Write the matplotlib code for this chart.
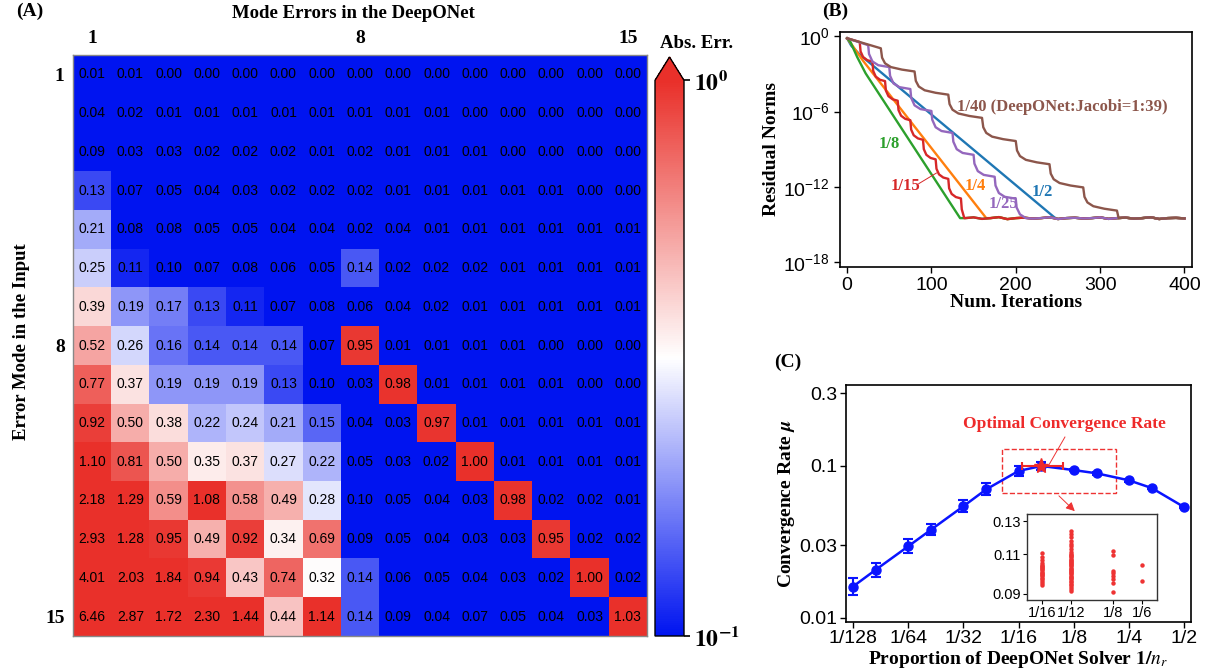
import numpy as np
import matplotlib
matplotlib.use("Agg")
import matplotlib.pyplot as plt
from matplotlib.colors import LinearSegmentedColormap, LogNorm
from matplotlib.patches import Rectangle

plt.rcParams['font.family'] = ['Liberation Sans', 'DejaVu Sans']
plt.rcParams['mathtext.fontset'] = 'stix'
SERIF = 'Liberation Serif'

# ---------------- (A) heatmap data ----------------
mode_err = [
    [0.01, 0.01, 0.00, 0.00, 0.00, 0.00, 0.00, 0.00, 0.00, 0.00, 0.00, 0.00, 0.00, 0.00, 0.00],
    [0.04, 0.02, 0.01, 0.01, 0.01, 0.01, 0.01, 0.01, 0.01, 0.01, 0.00, 0.00, 0.00, 0.00, 0.00],
    [0.09, 0.03, 0.03, 0.02, 0.02, 0.02, 0.01, 0.02, 0.01, 0.01, 0.01, 0.00, 0.00, 0.00, 0.00],
    [0.13, 0.07, 0.05, 0.04, 0.03, 0.02, 0.02, 0.02, 0.01, 0.01, 0.01, 0.01, 0.01, 0.00, 0.00],
    [0.21, 0.08, 0.08, 0.05, 0.05, 0.04, 0.04, 0.02, 0.04, 0.01, 0.01, 0.01, 0.01, 0.01, 0.01],
    [0.25, 0.11, 0.10, 0.07, 0.08, 0.06, 0.05, 0.14, 0.02, 0.02, 0.02, 0.01, 0.01, 0.01, 0.01],
    [0.39, 0.19, 0.17, 0.13, 0.11, 0.07, 0.08, 0.06, 0.04, 0.02, 0.01, 0.01, 0.01, 0.01, 0.01],
    [0.52, 0.26, 0.16, 0.14, 0.14, 0.14, 0.07, 0.95, 0.01, 0.01, 0.01, 0.01, 0.00, 0.00, 0.00],
    [0.77, 0.37, 0.19, 0.19, 0.19, 0.13, 0.10, 0.03, 0.98, 0.01, 0.01, 0.01, 0.01, 0.00, 0.00],
    [0.92, 0.50, 0.38, 0.22, 0.24, 0.21, 0.15, 0.04, 0.03, 0.97, 0.01, 0.01, 0.01, 0.01, 0.01],
    [1.10, 0.81, 0.50, 0.35, 0.37, 0.27, 0.22, 0.05, 0.03, 0.02, 1.00, 0.01, 0.01, 0.01, 0.01],
    [2.18, 1.29, 0.59, 1.08, 0.58, 0.49, 0.28, 0.10, 0.05, 0.04, 0.03, 0.98, 0.02, 0.02, 0.01],
    [2.93, 1.28, 0.95, 0.49, 0.92, 0.34, 0.69, 0.09, 0.05, 0.04, 0.03, 0.03, 0.95, 0.02, 0.02],
    [4.01, 2.03, 1.84, 0.94, 0.43, 0.74, 0.32, 0.14, 0.06, 0.05, 0.04, 0.03, 0.02, 1.00, 0.02],
    [6.46, 2.87, 1.72, 2.30, 1.44, 0.44, 1.14, 0.14, 0.09, 0.04, 0.07, 0.05, 0.04, 0.03, 1.03],
]
mode_ticks = ['1', '8', '15']

# ---------------- (B) residual norms (log10) ----------------
floor_it = [140, 150, 160, 170, 180, 190, 200, 210, 220, 230, 240, 250, 260, 270,
            280, 290, 300, 310, 320, 330, 340, 350, 360, 370, 380, 390, 400]
floor_log = [-14.5, -14.44, -14.56, -14.5, -14.42, -14.58, -14.5, -14.46, -14.54,
             -14.5, -14.43, -14.57, -14.5, -14.47, -14.53, -14.5, -14.44, -14.56,
             -14.5, -14.46, -14.54, -14.5, -14.43, -14.57, -14.5, -14.48, -14.52]

it_half = [0, 5, 15, 246]
log_half = [-0.15, -0.75, -1.45, -14.45]
it_quarter = [0, 6, 19, 165]
log_quarter = [-0.15, -0.7, -1.95, -14.5]
it_eighth = [0, 4, 12, 22, 134]
log_eighth = [-0.15, -0.45, -1.65, -2.95, -14.5]
it_15 = [0, 15, 16, 19, 24, 30, 31, 34, 39, 45, 46, 49, 54, 60, 61, 64, 69, 75, 76, 79,
         84, 90, 91, 94, 99, 105, 106, 109, 114, 120, 121, 124, 129, 135, 136, 139]
log_15 = [-0.15, -0.45, -1.2, -1.65, -1.9, -2.01, -2.76, -3.21, -3.46, -3.57, -4.32,
          -4.77, -5.02, -5.13, -5.88, -6.33, -6.58, -6.69, -7.44, -7.89, -8.14, -8.25,
          -9.0, -9.45, -9.7, -9.81, -10.56, -11.01, -11.26, -11.37, -12.12, -12.57,
          -12.82, -12.93, -13.8, -14.5]
it_25 = [0, 25, 26, 30, 37, 50, 51, 55, 62, 75, 76, 80, 87, 100, 101, 105, 112, 125,
         126, 130, 137, 150, 151, 155, 162, 175, 176, 180, 187, 200, 201, 205, 212]
log_25 = [-0.15, -0.7, -1.4, -2.0, -2.3, -2.45, -3.15, -3.75, -4.05, -4.2, -4.9, -5.5,
          -5.8, -5.95, -6.65, -7.25, -7.55, -7.7, -8.4, -9.0, -9.3, -9.45, -10.15,
          -10.75, -11.05, -11.2, -11.9, -12.5, -12.8, -12.95, -13.65, -14.2, -14.5]
it_40 = [0, 20, 40, 41.5, 45, 52, 65, 80, 81.5, 85, 92, 105, 120, 121.5, 125, 132, 145,
         160, 161.5, 165, 172, 185, 200, 201.5, 205, 212, 225, 240, 241.5, 245, 252, 265,
         280, 281.5, 285, 292, 305, 320, 322]
log_40 = [-0.15, -0.55, -0.95, -1.7, -2.15, -2.45, -2.65, -2.8, -3.55, -4.0, -4.3, -4.5,
          -4.65, -5.4, -5.85, -6.15, -6.35, -6.5, -7.25, -7.7, -8.0, -8.2, -8.35, -9.1,
          -9.55, -9.85, -10.05, -10.2, -10.95, -11.4, -11.7, -11.9, -12.05, -12.8,
          -13.25, -13.55, -13.75, -13.9, -14.5]

# ---------------- (C) convergence rate ----------------
prop = [1/128, 1/96, 1/64, 1/48, 1/32, 1/24, 1/16, 1/12, 1/8, 1/6, 1/4, 1/3, 1/2]
mu = [0.0161, 0.0208, 0.0296, 0.0381, 0.0543, 0.0702, 0.0927, 0.100, 0.094, 0.0895,
      0.0805, 0.0716, 0.0537]
mu_lo = [0.0141, 0.0187, 0.0266, 0.0350, 0.0496, 0.0642, 0.0859, 0.0935, 0.092, 0.0877,
         0.079, 0.0703, 0.0527]
mu_hi = [0.0184, 0.0231, 0.0329, 0.0415, 0.0594, 0.0768, 0.1000, 0.107, 0.096, 0.0913,
         0.082, 0.073, 0.0547]
prop_ticks = [1/128, 1/64, 1/32, 1/16, 1/8, 1/4, 1/2]
prop_labels = ['1/128', '1/64', '1/32', '1/16', '1/8', '1/4', '1/2']
opt_x, opt_mu = 1/12, 0.100
opt_range = [0.0653, 0.110]

ins_x = [1/16, 1/12, 1/8, 1/6]
ins_labels = ['1/16', '1/12', '1/8', '1/6']
ins_16 = [0.1107, 0.1085, 0.1068, 0.1052, 0.1045, 0.1038, 0.1032, 0.1026, 0.1020, 0.1014,
          0.1008, 0.1002, 0.0996, 0.0990, 0.0984, 0.0978, 0.0970, 0.0961, 0.0950, 0.0940]
ins_12 = [0.1240, 0.1220, 0.1200, 0.1175, 0.1160, 0.1145, 0.1130, 0.1115, 0.1105, 0.1098,
          0.1090, 0.1083, 0.1076, 0.1070, 0.1064, 0.1058, 0.1052, 0.1046, 0.1040, 0.1035,
          0.1029, 0.1023, 0.1017, 0.1011, 0.1005, 0.1000, 0.0994, 0.0988, 0.0982, 0.0976,
          0.0970, 0.0963, 0.0956, 0.0948, 0.0940, 0.0932, 0.0924, 0.0915]
ins_8 = [0.1120, 0.1094, 0.1013, 0.1000, 0.0987, 0.0972, 0.0952, 0.0911]
ins_6 = [0.1041, 0.0960]

W, H = 1216, 671
fig = plt.figure(figsize=(W / 100, H / 100), dpi=100)


def box(l, t, r, b):
    return [l / W, 1 - b / H, (r - l) / W, (b - t) / H]


# ================= (A) =================
BLUE_C, RED_C = '#0014f0', '#e9302a'
cmap = LinearSegmentedColormap.from_list('bwr2', [BLUE_C, '#ffffff', RED_C])
cmap.set_bad(BLUE_C)
cmap.set_under(BLUE_C)
cmap.set_over(RED_C)
norm = LogNorm(vmin=0.1, vmax=1.0)

arr = np.array(mode_err)
axA = fig.add_axes(box(73, 55, 647, 636))
im = axA.imshow(np.ma.masked_less_equal(arr, 0), cmap=cmap, norm=norm,
                aspect='auto', interpolation='nearest')
for i in range(arr.shape[0]):
    for j in range(arr.shape[1]):
        axA.text(j, i, f"{arr[i, j]:.2f}", ha='center', va='center', fontsize=10,
                 color='black')
axA.xaxis.tick_top()
axA.set_xticks([0, 7, 14])
axA.set_xticklabels(mode_ticks, fontfamily=SERIF, fontweight='bold', fontsize=14)
axA.set_yticks([0, 7, 14])
axA.set_yticklabels(mode_ticks, fontfamily=SERIF, fontweight='bold', fontsize=14)
axA.tick_params(length=0, pad=6)
for s in axA.spines.values():
    s.set_color('#888888')
    s.set_linewidth(1.0)

fig.text(353 / W, 1 - 13 / H, 'Mode Errors in the DeepONet', ha='center', va='center',
         fontfamily=SERIF, fontweight='bold', fontsize=13.5)
fig.text(22 / W, 1 - 342 / H, 'Error Mode in the Input', rotation=90, ha='center',
         va='center', fontfamily=SERIF, fontweight='bold', fontsize=13.5)
fig.text(16 / W, 1 - 11 / H, '(A)', ha='left', va='center', fontfamily=SERIF,
         fontweight='bold', fontsize=14)

# extension triangle is drawn inside the colorbar axes
cax = fig.add_axes(box(655, 57, 684, 636))
cb = fig.colorbar(im, cax=cax, extend='max', extendfrac=0.042)
cb.ax.minorticks_off()
cb.set_ticks([0.1, 1.0])
cb.set_ticklabels([r'$\mathbf{10^{-1}}$', r'$\mathbf{10^{0}}$'])
cb.ax.tick_params(labelsize=17, length=4, width=1.2)
cb.outline.set_linewidth(1.0)
fig.text(697 / W, 1 - 44 / H, 'Abs. Err.', ha='center', va='center', fontfamily=SERIF,
         fontweight='bold', fontsize=13.5)

# ================= (B) =================
axB = fig.add_axes(box(840, 32, 1192, 267))
curves = [
    (it_half, log_half, '#1f77b4'),
    (it_quarter, log_quarter, '#ff7f0e'),
    (it_eighth, log_eighth, '#2ca02c'),
    (it_15, log_15, '#d62728'),
    (it_25, log_25, '#9467bd'),
    (it_40, log_40, '#8c564b'),
]
for its, logs, col in curves:
    x = list(its) + [f for f in floor_it if f > its[-1]]
    y = list(logs) + [v for f, v in zip(floor_it, floor_log) if f > its[-1]]
    axB.plot(x, 10 ** np.array(y), color=col, lw=1.7)
axB.set_yscale('log')
axB.set_xlim(-8.4, 409)
axB.set_ylim(10 ** -18.4, 10 ** 0.35)
axB.set_yticks([1, 1e-6, 1e-12, 1e-18])
axB.minorticks_off()
axB.set_xticks([0, 100, 200, 300, 400])
axB.tick_params(labelsize=14, length=4, width=1.0)
axB.set_xlabel('Num. Iterations', fontfamily=SERIF, fontweight='bold', fontsize=14,
               labelpad=0)
axB.set_ylabel('Residual Norms', fontfamily=SERIF, fontweight='bold', fontsize=14,
               labelpad=2)
for s in axB.spines.values():
    s.set_linewidth(1.2)

lab_kw = dict(fontfamily=SERIF, fontweight='bold', fontsize=12, ha='center', va='center')
axB.text(255, 10 ** -5.6, '1/40 (DeepONet:Jacobi=1:39)', color='#8c564b', **lab_kw)
axB.text(50, 10 ** -8.6, '1/8', color='#2ca02c', **lab_kw)
axB.text(69, 10 ** -11.9, '1/15', color='#d62728', **lab_kw)
axB.plot([85, 106], [10 ** -11.75, 10 ** -10.9], color='#d62728', lw=0.7)
axB.text(152, 10 ** -11.9, '1/4', color='#ff7f0e', **lab_kw)
axB.text(185, 10 ** -13.4, '1/25', color='#9467bd', **lab_kw)
axB.text(231, 10 ** -12.4, '1/2', color='#1f77b4', **lab_kw)
fig.text(822 / W, 1 - 11 / H, '(B)', ha='left', va='center', fontfamily=SERIF,
         fontweight='bold', fontsize=14)

# ================= (C) =================
axC = fig.add_axes(box(846, 385, 1191, 622))
mu_a = np.array(mu)
axC.errorbar(prop, mu, yerr=[mu_a - np.array(mu_lo), np.array(mu_hi) - mu_a],
             fmt='-o', color='#0a14ff', ms=6.5, lw=1.8, elinewidth=1.5, capsize=3.5,
             capthick=1.5, zorder=3)
axC.errorbar([opt_x], [opt_mu], xerr=[[opt_x - opt_range[0]], [opt_range[1] - opt_x]],
             fmt='*', color='#ee2a2a', ms=11, elinewidth=1.5, capsize=3, capthick=1.5,
             zorder=4)
axC.set_xscale('log', base=2)
axC.set_yscale('log')
axC.set_xlim(2 ** (-7 - 7 / 55.2), 2 ** (-1 + 7 / 55.2))
axC.set_ylim(0.00941, 0.341)
axC.minorticks_off()
axC.set_xticks(prop_ticks)
axC.set_xticklabels(prop_labels)
axC.set_yticks([0.01, 0.03, 0.1, 0.3])
axC.set_yticklabels(['0.01', '0.03', '0.1', '0.3'])
axC.tick_params(labelsize=14, length=4, width=1.0, pad=2)
axC.set_xlabel(r'Proportion of DeepONet Solver $\boldsymbol{1/n_r}$', fontfamily=SERIF,
               fontweight='bold', fontsize=14, labelpad=1)
axC.set_ylabel(r'Convergence Rate $\boldsymbol{\mu}$', fontfamily=SERIF,
               fontweight='bold', fontsize=14, labelpad=2)
for s in axC.spines.values():
    s.set_linewidth(1.2)

axC.add_patch(Rectangle((0.051, 0.0664), 0.212 - 0.051, 0.130 - 0.0664, fill=False,
                        ls='--', lw=1.0, ec='#ee3333', zorder=2))
axC.text(0.112, 0.19, 'Optimal Convergence Rate', color='#ee2a2a', ha='center',
         va='center', fontfamily=SERIF, fontweight='bold', fontsize=12.5)
axC.plot([0.112, 0.0915], [0.155, 0.1015], color='#ee3333', lw=0.7)
axC.annotate('', xy=(0.130, 0.049), xytext=(0.1013, 0.0655),
             arrowprops=dict(arrowstyle='-|>', color='#ee3333', lw=0.7,
                             mutation_scale=13))
fig.text(774 / W, 1 - 362 / H, '(C)', ha='left', va='center', fontfamily=SERIF,
         fontweight='bold', fontsize=14)

axI = fig.add_axes(box(1027, 514, 1157, 600))
for xv, col in zip(ins_x, [ins_16, ins_12, ins_8, ins_6]):
    axI.plot([xv] * len(col), col, 'o', color='#ee3333', ms=3.2, mew=0)
axI.set_xscale('log', base=2)
axI.set_yscale('log')
axI.set_xlim(0.0539, 0.1931)
axI.set_ylim(0.0873, 0.135)
axI.minorticks_off()
axI.set_xticks(ins_x)
axI.set_xticklabels(ins_labels)
axI.set_yticks([0.09, 0.11, 0.13])
axI.set_yticklabels(['0.09', '0.11', '0.13'])
axI.tick_params(labelsize=10.5, length=3, width=0.8, pad=1.5)
for s in axI.spines.values():
    s.set_linewidth(1.0)
    s.set_color('#333333')

fig.savefig('out.png', dpi=100)
